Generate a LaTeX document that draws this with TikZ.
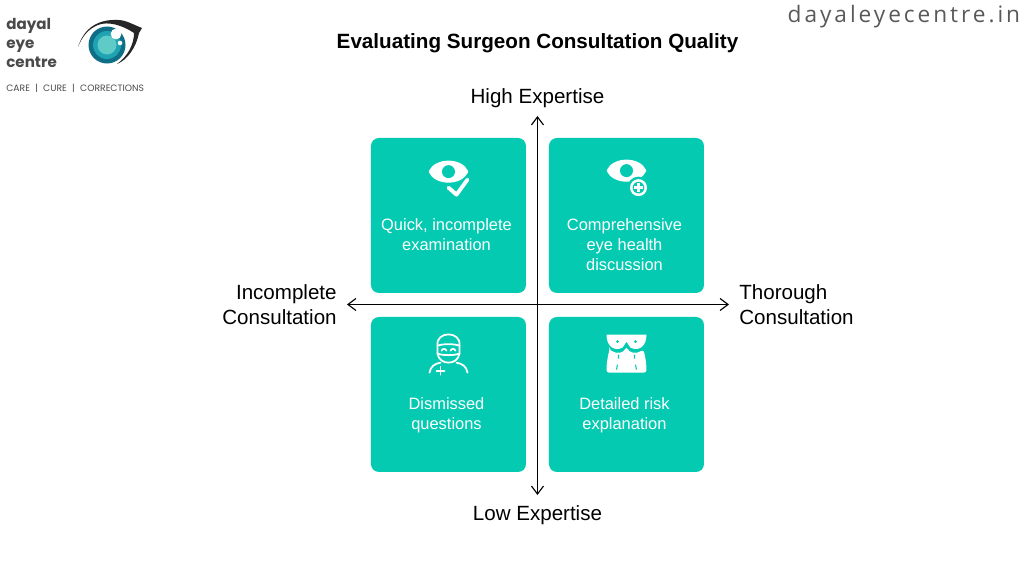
\documentclass[tikz,border=0pt]{standalone}
\usepackage{fontspec}
\setmainfont{Liberation Sans}
\newfontfamily\logofont{Poppins}
\newfontfamily\sitefont[LetterSpace=13]{Open Sans}
\usetikzlibrary{positioning,arrows.meta}
\definecolor{cardteal}{HTML}{04CAB2}
\definecolor{logogray}{HTML}{4A4A4A}
\definecolor{irisdark}{HTML}{0F6F87}
\definecolor{irismid}{HTML}{1FA3B3}
\definecolor{irislight}{HTML}{5FCBC6}
\tikzset{
    card/.style={fill=cardteal, minimum width=3.1cm, minimum height=3.1cm, rounded corners=0.16cm},
    cardtext/.style={text=white, align=center, font=\fontsize{9.35}{11.3}\selectfont, inner sep=0pt, xshift=-0.04cm},
    axislabel/.style={font=\fontsize{11.7}{14}\selectfont, inner sep=0.2cm},
    axisarrow/.style={{Straight Barb[length=1.6mm,width=2.4mm]}-{Straight Barb[length=1.6mm,width=2.4mm]}, line width=0.65pt},
    iconline/.style={draw=white, line width=1pt, line cap=round, line join=round},
    logoword/.style={anchor=base west, inner sep=0pt, text=logogray, font=\fontsize{8.6}{11}\logofont\bfseries},
    pics/eyeshape/.style={code={
        \filldraw[white, line width=1pt, line join=round] (-19,0) .. controls (-13,-13.5) and (13,-13.5) .. (19,0) .. controls (13,13.5) and (-13,13.5) .. (-19,0) -- cycle;
        \fill[cardteal] (0,0) circle (6.5);
    }}
}
\begin{document}
\begin{tikzpicture}
    \useasboundingbox (-10.75,-5.42) rectangle (9.73,6.1);

    % Title and site name
    \node[font=\fontsize{11.75}{14}\selectfont\bfseries] (title) at (0,5.24) {Evaluating Surgeon Consultation Quality};
    \node[anchor=east, inner sep=0pt, text=black!65, font=\fontsize{12.9}{16}\sitefont] (site) at (9.66,5.76) {dayaleyecentre.in};

    % Quadrant cards
    \node[card] (quick) at (-1.78,1.79) {};
    \node[card] (compre) at (1.78,1.79) {};
    \node[card] (dismiss) at (-1.78,-1.79) {};
    \node[card] (risk) at (1.78,-1.79) {};

    \node[cardtext, below=1.62cm of quick.north] (quicktext) {Quick, incomplete\\examination};
    \node[cardtext, below=1.62cm of compre.north] (compretext) {Comprehensive\\eye health\\discussion};
    \node[cardtext, below=1.62cm of dismiss.north] (dismisstext) {Dismissed\\questions};
    \node[cardtext, below=1.62cm of risk.north] (risktext) {Detailed risk\\explanation};

    % Axes
    \node[axislabel, anchor=south, inner ysep=0.16cm] (high) at (0,3.78) {High Expertise};
    \node[axislabel, anchor=north] (low) at (0,-3.8) {Low Expertise};
    \node[axislabel, anchor=east, align=right] (incomplete) at (-3.81,0.01) {Incomplete\\Consultation};
    \node[axislabel, anchor=west, align=left] (thorough) at (3.83,0.01) {Thorough\\Consultation};
    \draw[axisarrow] (low.north) -- (high.south);
    \draw[axisarrow] (incomplete.east) -- (thorough.west);

    % Icon: eye with check
    \begin{scope}[shift={(quick.north)}, shift={(0,-0.68)}, x=0.02cm, y=-0.02cm]
        \pic {eyeshape};
        \draw[cardteal, line width=4.4pt, line cap=round, line join=round] (0,16) -- (8,23) -- (19,8);
        \draw[white, line width=2.2pt, line cap=round, line join=round] (0,16) -- (8,23) -- (19,8);
    \end{scope}

    % Icon: eye with plus
    \begin{scope}[shift={(compre.north)}, shift={(0,-0.66)}, x=0.02cm, y=-0.02cm]
        \pic {eyeshape};
        \fill[cardteal] (12,17) circle (11);
        \fill[white] (12,17) circle (8.5);
        \fill[cardteal] (12,17) circle (5.8);
        \draw[white, line width=1.5pt] (7.5,17) -- (16.5,17) (12,12.5) -- (12,21.5);
    \end{scope}

    % Icon: surgeon
    \begin{scope}[shift={(dismiss.north)}, shift={(0,-0.62)}, x=0.02cm, y=-0.02cm]
        \draw[iconline] (-11,-2) .. controls (-13,-17) and (13,-17) .. (11,-2) -- (11,6) .. controls (9,18) and (-9,18) .. (-11,6) -- cycle;
        \draw[iconline] (-11,-2) .. controls (-5,-4) and (5,-4) .. (11,-2);
        \draw[iconline] (-11,6) .. controls (-5,8) and (5,8) .. (11,6);
        \draw[iconline] (-7,3) .. controls (-5.5,0.5) and (-3.5,0.5) .. (-2,3) (2,3) .. controls (3.5,0.5) and (5.5,0.5) .. (7,3);
        \draw[iconline] (-19,25) .. controls (-18,19) and (-14,16) .. (-8,15);
        \draw[iconline] (19,25) .. controls (18,19) and (14,16) .. (8,15);
        \draw[iconline] (-12,23) -- (-4,23) (-8,19) -- (-8,27);
    \end{scope}

    % Icon: torso
    \begin{scope}[shift={(risk.north)}, shift={(0,-0.72)}, x=0.02cm, y=-0.02cm]
        \fill[white] (-20,-18) -- (20,-18) .. controls (20,-6) and (12,-1) .. (4,-5) -- (0,-11) -- (-4,-5) .. controls (-12,-1) and (-20,-6) .. (-20,-18) -- cycle;
        \fill[white, rounded corners=1.5] (-17,-3) .. controls (-9,2) and (-3,0) .. (0,-6) .. controls (3,0) and (9,2) .. (17,-3) .. controls (19,5) and (20,12) .. (20,20) -- (-20,20) .. controls (-20,12) and (-19,5) .. (-17,-3) -- cycle;
        \fill[cardteal] (-9,-11) circle (1.6) (9,-11) circle (1.6);
        \draw[cardteal, line width=0.6pt] (-8,2) -- (-8,6) (8,2) -- (8,6) (-9,12) -- (-10,17) (9,12) -- (10,17);
    \end{scope}

    % Logo
    \begin{scope}[shift={(-10.75,6.1)}, x=0.02cm, y=-0.02cm]
        \node[logoword] (dayal) at (6,30) {dayal};
        \node[logoword] (eye) at (6,48) {eye};
        \node[logoword] (centre) at (6,67) {centre};
        \node[anchor=west, inner sep=0pt, text=logogray, font=\fontsize{5.25}{6}\logofont] (tagline) at (6,88) {CARE\hspace{3pt}|\hspace{3pt}CURE\hspace{3pt}|\hspace{3pt}CORRECTIONS};
        \fill[black!85] (78,47) .. controls (84,28) and (98,19) .. (118,20) .. controls (126,20) and (134,25) .. (142,28) -- (139,33) .. controls (136,48) and (127,60) .. (117,64) .. controls (128,56) and (134,44) .. (134,33) .. controls (122,25) and (108,21) .. (98,25) .. controls (88,29) and (82,37) .. (78,47) -- cycle;
        \fill[irisdark] (107,45) circle (18.5);
        \fill[irismid] (107,45) circle (14);
        \fill[irislight] (107,45) circle (9.5);
        \fill[white] (116,34) circle (5.4);
        \fill[white] (120,43) circle (2.3);
    \end{scope}
\end{tikzpicture}
\end{document}
